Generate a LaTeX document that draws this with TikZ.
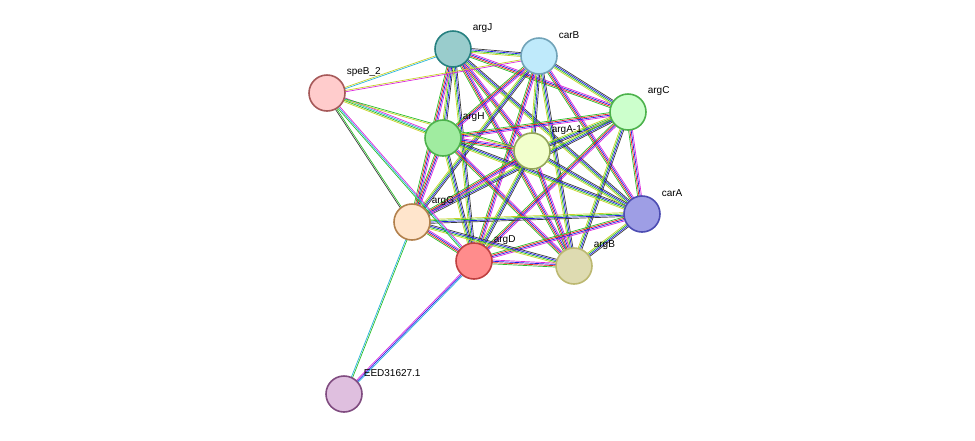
\documentclass[tikz,border=0pt]{standalone}
\usepackage{fontspec}
\setmainfont{Liberation Sans}
\usetikzlibrary{calc,backgrounds}
\definecolor{sgreen}{RGB}{40,190,40}
\definecolor{sred}{RGB}{230,30,30}
\definecolor{sblue}{RGB}{30,30,230}
\definecolor{scyan}{RGB}{40,180,220}
\definecolor{smag}{RGB}{220,40,220}
\definecolor{syel}{RGB}{200,210,40}
\definecolor{sdark}{RGB}{60,60,60}
\tikzset{
  prot/.style={draw, circle, line width=1.6pt, minimum size=36pt, inner sep=0pt},
  lab/.style={font=\fontsize{10}{11}\selectfont, anchor=west, xshift=3pt, yshift=8pt}
}
% several thin parallel lines between two nodes
\newcommand{\sedge}[3]{%
  \foreach \c [count=\k] in {#3}
    \draw[\c, line width=0.7pt] ($(#1)!{(\k-2.5)*1.3pt}!90:(#2)$) -- ($(#2)!{(\k-2.5)*1.3pt}!-90:(#1)$);}
\begin{document}
\begin{tikzpicture}[x=1pt,y=-1pt]
\useasboundingbox (0,0) rectangle (975,440);
\node[prot, draw=teal!70!gray, fill=teal!40!white, label={[lab]north east:argJ}] (argJ) at (453,49) {};
\node[prot, draw=cyan!40!gray, fill=cyan!25!white, label={[lab]north east:carB}] (carB) at (539,56) {};
\node[prot, draw=red!30!gray, fill=red!20!white, label={[lab]north east:speB\_2}] (speB) at (327,93) {};
\node[prot, draw=green!40!gray, fill=green!20!white, label={[lab]north east:argC}] (argC) at (628,112) {};
\node[prot, draw=green!40!gray, fill=green!35!white!85!gray, label={[lab]north east:argH}] (argH) at (443,138) {};
\node[prot, draw=lime!30!gray, fill=lime!20!white, label={[lab]north east:argA-1}] (argA) at (532,151) {};
\node[prot, draw=blue!40!gray, fill=blue!35!white!80!gray, label={[lab]north east:carA}] (carA) at (642,214) {};
\node[prot, draw=orange!40!gray, fill=orange!20!white, label={[lab]north east:argG}] (argG) at (412,222) {};
\node[prot, draw=red!50!gray, fill=red!45!white, label={[lab]north east:argD}] (argD) at (474,261) {};
\node[prot, draw=yellow!40!gray, fill=yellow!40!gray!50!white, label={[lab]north east:argB}] (argB) at (574,266) {};
\node[prot, draw=violet!40!gray, fill=violet!25!white, label={[lab]north east:EED31627.1}] (eed) at (344,394) {};
\begin{scope}[on background layer]
\foreach \a/\b [count=\i] in {argJ/carB,argJ/argC,argJ/argH,argJ/argA,argJ/carA,argJ/argG,argJ/argD,argJ/argB,
  carB/argC,carB/argH,carB/argA,carB/carA,carB/argG,carB/argD,carB/argB,
  argC/argH,argC/argA,argC/carA,argC/argG,argC/argD,argC/argB,
  argH/argA,argH/carA,argH/argG,argH/argD,argH/argB,
  argA/carA,argA/argG,argA/argD,argA/argB,
  carA/argG,carA/argD,carA/argB,argG/argD,argG/argB,argD/argB}
  {\ifodd\i \sedge{\a}{\b}{syel,sgreen,sblue,sdark}\else\sedge{\a}{\b}{sgreen,sred,sblue,smag}\fi}
\sedge{speB}{argJ}{scyan,syel}
\sedge{speB}{carB}{smag,syel}
\sedge{speB}{argH}{syel,sgreen,scyan,smag}
\sedge{speB}{argA}{syel,sgreen}
\sedge{speB}{argG}{sdark,sgreen}
\sedge{speB}{argD}{sgreen,scyan,smag}
\sedge{eed}{argG}{sgreen,scyan}
\sedge{eed}{argD}{scyan,sblue,smag}
\end{scope}
\end{tikzpicture}
\end{document}
